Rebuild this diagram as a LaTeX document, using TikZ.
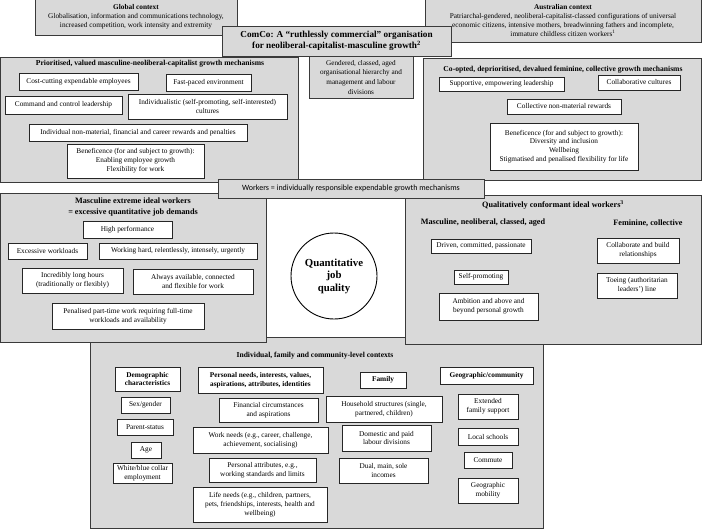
\documentclass[tikz,border=0pt]{standalone}
\usepackage{fontspec}
\setmainfont{Liberation Serif}
\newfontfamily\carl{Carlito}
\usetikzlibrary{shadows}
\definecolor{pgray}{HTML}{D9D9D9}
\definecolor{bgray}{HTML}{3A3A3A}
\newcommand\bx[7][]{%
  \pgfmathsetmacro\bxw{#5-#3}\pgfmathsetmacro\bxh{#6-#4}%
  \pgfmathsetmacro\bxcx{(#3+#5)/2}\pgfmathsetmacro\bxcy{(#4+#6)/2}%
  \node[wbox,#1,minimum width=\bxw pt,minimum height=\bxh pt] (#2) at (\bxcx,\bxcy) {#7};}
\begin{document}
\begin{tikzpicture}[x=1pt,y=-1pt,
  wbox/.style={draw=black!85, fill=white, line width=0.6pt, align=center, inner sep=1pt, font=\fontsize{7.3}{8.8}\selectfont},
  panel/.style={draw=bgray, fill=pgray, line width=0.7pt, drop shadow={shadow xshift=1.3pt, shadow yshift=-1.3pt, fill=black!65, opacity=1}, inner sep=1pt},
  ttl/.style={font=\fontsize{7.6}{9}\selectfont\bfseries, align=center, inner sep=0pt},
  bttl/.style={font=\fontsize{8.2}{11}\selectfont\bfseries, align=center, inner sep=0pt}]
\useasboundingbox (0,0) rectangle (703,529);
% context boxes
\bx[panel]{glob}{35}{-1}{237}{35}{\textbf{Global context}\\Globalisation, information and communications technology,\\increased competition, work intensity and extremity}
\bx[panel]{aus}{425}{-1}{701}{42}{\textbf{Australian context}\\Patriarchal-gendered, neoliberal-capitalist-classed configurations of universal\\economic citizens, intensive mothers, breadwinning fathers and incomplete,\\immature childless citizen workers\textsuperscript{1}}
% upper panels
\bx[panel]{lp}{0.5}{57}{298}{182}{}
\bx[panel]{rp}{423}{58}{701}{180}{}
\bx[panel,font=\fontsize{7.2}{9.6}\selectfont]{gend}{309}{55}{413}{98}{\\[-3pt]Gendered, classed, aged\\organisational hierarchy and\\management and labour\\divisions}
\bx[panel,font=\fontsize{9.2}{11.5}\selectfont\bfseries]{comco}{222}{26}{451}{56}{ComCo: A “ruthlessly commercial” organisation\\for neoliberal-capitalist-masculine growth\textsuperscript{2}}
\node[ttl] (lpt) at (150,64) {Prioritised, valued masculine-neoliberal-capitalist growth mechanisms};
\bx{cost}{19}{73}{138}{90}{Cost-cutting expendable employees}
\bx{fast}{166}{74}{251}{91}{Fast-paced environment}
\bx{cmd}{5}{96}{122}{114}{Command and control leadership}
\bx{indiv}{128}{94}{287}{119}{Individualistic (self-promoting, self-interested)\\cultures}
\bx{nonmat}{29}{124}{247}{141}{Individual non-material, financial and career rewards and penalties}
\bx{benl}{67}{144}{204}{178}{Beneficence (for and subject to growth):\\Enabling employee growth\\Flexibility for work}
\node[ttl] (rpt) at (563,70) {Co-opted, deprioritised, devalued feminine, collective growth mechanisms};
\bx{supp}{439}{77}{564}{91}{Supportive, empowering leadership}
\bx{collab}{598}{75}{680}{90}{Collaborative cultures}
\bx{collnm}{507}{99}{621}{114}{Collective non-material rewards}
\bx{benr}{490}{123}{638}{170}{Beneficence (for and subject to growth):\\Diversity and inclusion\\Wellbeing\\Stigmatised and penalised flexibility for life}
% bottom panel
\bx[panel]{bp}{90}{337}{543}{528}{}
\node[ttl] (bpt) at (315,356) {Individual, family and community-level contexts};
\bx[font=\fontsize{7.3}{8.8}\selectfont\bfseries]{demo}{115}{367}{180}{391}{Demographic\\characteristics}
\bx{sex}{121}{397}{170}{413}{Sex/gender}
\bx{par}{117}{419}{173}{435}{Parent-status}
\bx{age}{131}{442}{161}{458}{Age}
\bx{wbc}{113}{463}{172}{483}{White/blue collar\\employment}
\bx[font=\fontsize{7.3}{8.8}\selectfont\bfseries]{pers}{198}{367}{323}{393}{Personal needs, interests, values,\\aspirations, attributes, identities}
\bx{fin}{219}{398}{318}{422}{Financial circumstances\\and aspirations}
\bx{work}{193}{427}{328}{453}{Work needs (e.g., career, challenge,\\achievement, socialising)}
\bx{attr}{209}{458}{316}{482}{Personal attributes, e.g.,\\working standards and limits}
\bx{life}{193}{487}{327}{522}{Life needs (e.g., children, partners,\\pets, friendships, interests, health and\\wellbeing)}
\bx[font=\fontsize{7.3}{8.8}\selectfont\bfseries]{fam}{360}{372}{406}{388}{Family}
\bx{house}{326}{396}{442}{422}{Household structures (single,\\partnered, children)}
\bx{dom}{342}{425}{431}{451}{Domestic and paid\\labour divisions}
\bx{dual}{339}{458}{428}{483}{Dual, main, sole\\incomes}
\bx[font=\fontsize{7.3}{8.8}\selectfont\bfseries]{geo}{440}{367}{533}{384}{Geographic/community}
\bx{ext}{458}{394}{518}{419}{Extended\\family support}
\bx{school}{458}{428}{518}{445}{Local schools}
\bx{comm}{464}{452}{512}{468}{Commute}
\bx{mob}{458}{478}{518}{503}{Geographic\\mobility}
% middle panels
\bx[panel]{mp}{0.5}{193}{266}{342}{}
\node[bttl] (mpt) at (133,207.5) {Masculine extreme ideal workers\\= excessive quantitative job demands};
\bx{hp}{83}{221}{172}{238}{High performance}
\bx{exc}{8}{243}{87}{259}{Excessive workloads}
\bx{hard}{99}{243}{257}{259}{Working hard, relentlessly, intensely, urgently}
\bx{long}{22}{268}{123}{293}{Incredibly long hours\\(traditionally or flexibly)}
\bx{avail}{133}{269}{253}{294}{Always available, connected\\and flexible for work}
\bx{pen}{52}{303}{204}{329}{Penalised part-time work requiring full-time\\workloads and availability}
\bx[panel]{qp}{405}{195}{701}{344}{}
\node[bttl] (qpt) at (553,205) {Qualitatively conformant ideal workers\textsuperscript{3}};
\node[bttl] (qpm) at (483,223) {Masculine, neoliberal, classed, aged};
\node[bttl] (qpf) at (648,223) {Feminine, collective};
\bx{driv}{431}{239}{531}{253}{Driven, committed, passionate}
\bx{selfp}{454}{270}{508}{284}{Self-promoting}
\bx{amb}{439}{293}{538}{320}{Ambition and above and\\beyond personal growth}
\bx{colb}{597}{238}{679}{263}{Collaborate and build\\relationships}
\bx{toe}{597}{273}{677}{298}{Toeing (authoritarian\\leaders’) line}
% workers banner
\bx[panel,font=\fontsize{8}{9}\selectfont\carl]{wk}{218}{179}{484}{198}{Workers = individually responsible expendable growth mechanisms}
% circle
\node[draw=black, line width=0.9pt, circle, minimum size=86pt, fill=white, align=center, inner sep=0pt, font=\fontsize{10.8}{12.5}\selectfont\bfseries] (qjq) at (334,276) {Quantitative\\job\\quality};
\end{tikzpicture}
\end{document}
